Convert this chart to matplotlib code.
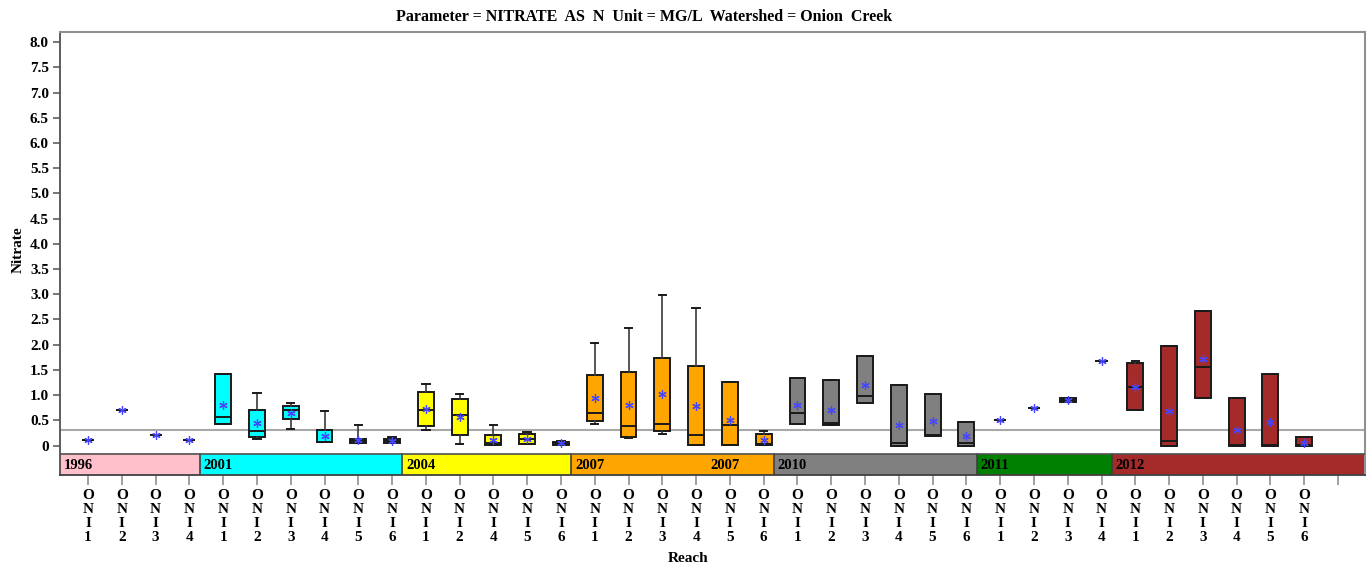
import matplotlib
matplotlib.use("Agg")
import matplotlib.pyplot as plt
from matplotlib.patches import Rectangle

# ---------------- data ----------------
sites = ["ONI1", "ONI2", "ONI3", "ONI4",
         "ONI1", "ONI2", "ONI3", "ONI4", "ONI5", "ONI6",
         "ONI1", "ONI2", "ONI4", "ONI5", "ONI6",
         "ONI1", "ONI2", "ONI3", "ONI4", "ONI5", "ONI6",
         "ONI1", "ONI2", "ONI3", "ONI4", "ONI5", "ONI6",
         "ONI1", "ONI2", "ONI3", "ONI4",
         "ONI1", "ONI2", "ONI3", "ONI4", "ONI5", "ONI6"]
q1 = [0.10, 0.70, 0.20, 0.10,
      0.43, 0.16, 0.52, 0.06, 0.05, 0.05,
      0.38, 0.20, 0.01, 0.03, 0.01,
      0.48, 0.17, 0.29, 0.01, 0.01, 0.01,
      0.42, 0.40, 0.85, 0.00, 0.19, 0.00,
      0.50, 0.74, 0.87, 1.68,
      0.70, 0.00, 0.94, 0.00, 0.00, 0.00]
med = [0.10, 0.70, 0.20, 0.10,
       0.57, 0.28, 0.71, 0.07, 0.08, 0.08,
       0.71, 0.61, 0.05, 0.12, 0.04,
       0.65, 0.38, 0.42, 0.21, 0.40, 0.02,
       0.64, 0.44, 0.99, 0.05, 0.21, 0.05,
       0.50, 0.74, 0.91, 1.68,
       1.16, 0.08, 1.55, 0.01, 0.01, 0.01]
q3 = [0.10, 0.70, 0.20, 0.10,
      1.42, 0.71, 0.78, 0.30, 0.12, 0.13,
      1.07, 0.92, 0.21, 0.23, 0.07,
      1.39, 1.45, 1.73, 1.57, 1.25, 0.22,
      1.34, 1.29, 1.77, 1.20, 1.02, 0.47,
      0.50, 0.74, 0.94, 1.68,
      1.64, 1.98, 2.66, 0.94, 1.41, 0.16]
whis_lo = [0.10, 0.70, 0.20, 0.10,
           0.43, 0.13, 0.33, 0.06, 0.05, 0.05,
           0.30, 0.02, 0.01, 0.03, 0.01,
           0.42, 0.15, 0.22, 0.01, 0.01, 0.01,
           0.42, 0.40, 0.85, 0.00, 0.19, 0.00,
           0.50, 0.74, 0.87, 1.68,
           0.70, 0.00, 0.94, 0.00, 0.00, 0.00]
whis_hi = [0.10, 0.70, 0.20, 0.10,
           1.42, 1.05, 0.85, 0.69, 0.40, 0.16,
           1.22, 1.02, 0.40, 0.26, 0.09,
           2.03, 2.33, 2.98, 2.72, 1.25, 0.28,
           1.34, 1.29, 1.77, 1.20, 1.02, 0.47,
           0.50, 0.74, 0.94, 1.68,
           1.67, 1.98, 2.66, 0.94, 1.41, 0.16]
means = [0.10, 0.70, 0.20, 0.10,
         0.81, 0.44, 0.65, 0.18, 0.10, 0.08,
         0.73, 0.56, 0.11, 0.13, 0.05,
         0.94, 0.81, 1.02, 0.79, 0.50, 0.11,
         0.80, 0.71, 1.20, 0.41, 0.48, 0.18,
         0.50, 0.74, 0.91, 1.68,
         1.17, 0.69, 1.72, 0.31, 0.47, 0.05]

block_labels = ["1996", "2001", "2004", "2007", "2007", "2010", "2011", "2012"]
block_sizes = [4, 6, 5, 4, 2, 6, 4, 6]
block_colors = ["#FFC0CB", "#00FFFF", "#FFFF00", "#FFA500", "#FFA500",
                "#808080", "#008000", "#A52A2A"]
ref_value = 0.31
y_ticks = [0.0, 0.5, 1.0, 1.5, 2.0, 2.5, 3.0, 3.5, 4.0, 4.5,
           5.0, 5.5, 6.0, 6.5, 7.0, 7.5, 8.0]

title = "Parameter = NITRATE  AS  N  Unit = MG/L  Watershed = Onion  Creek"
xlabel = "Reach"
ylabel = "Nitrate"

# ---------------- plot ----------------
FONT = ["Liberation Serif", "DejaVu Serif"]
plt.rcParams["font.family"] = FONT
plt.rcParams["font.weight"] = "bold"

fig = plt.figure(figsize=(13.72, 5.69), dpi=100)
ax = fig.add_axes([60 / 1372, 1 - 475 / 569, 1305 / 1372, 443 / 569])

n = len(sites)
positions = list(range(1, n + 1))

cat_colors = []
for c, s in zip(block_colors, block_sizes):
    cat_colors += [c] * s

stats = []
widths = []
for i in range(n):
    stats.append(dict(med=med[i], q1=q1[i], q3=q3[i], whislo=whis_lo[i],
                      whishi=whis_hi[i], mean=means[i], fliers=[]))
    widths.append(0.36 if q1[i] == q3[i] else 0.47)

bp = ax.bxp(stats, positions=positions, widths=widths, patch_artist=True,
            showmeans=True, showfliers=False, manage_ticks=False,
            boxprops=dict(edgecolor="#1a1a1a", linewidth=1.4),
            medianprops=dict(color="#1a1a1a", linewidth=1.4),
            whiskerprops=dict(color="#3a3a3a", linewidth=1.2),
            capprops=dict(color="#1a1a1a", linewidth=1.4),
            capwidths=0.22,
            meanprops=dict(marker=(6, 2, 0), markeredgecolor="#4646ff",
                           markerfacecolor="#4646ff", markersize=6,
                           markeredgewidth=0.9, linestyle="none"))
for patch, col in zip(bp["boxes"], cat_colors):
    patch.set_facecolor(col)

xmin, xmax = 0.17, 38.8
ymin, ymax = -0.585, 8.2
band_top = -0.168
ax.set_xlim(xmin, xmax)
ax.set_ylim(ymin, ymax)

ax.axhline(ref_value, color="#a8a8a8", linewidth=1.5, zorder=1)

start = xmin
edges = []
idx = 0
for k, (lab, size, col) in enumerate(zip(block_labels, block_sizes, block_colors)):
    idx += size
    end = idx + 0.3 if k < len(block_sizes) - 1 else xmax
    ax.add_patch(Rectangle((start, ymin), end - start, band_top - ymin,
                           facecolor=col, edgecolor="none", zorder=2))
    ax.text(start + 0.12, (ymin + band_top) / 2 - 0.02, lab, ha="left",
            va="center", fontsize=10.5, fontweight="bold", color="black",
            zorder=4)
    if k < len(block_sizes) - 1 and block_colors[k + 1] != col:
        edges.append(end)
    start = end
for e in edges:
    ax.plot([e, e], [ymin, band_top], color="#404040", linewidth=1.2, zorder=3)
ax.plot([xmin, xmax], [band_top, band_top], color="#505050", linewidth=1.2,
        zorder=3)

for side in ["top", "right"]:
    ax.spines[side].set_color("#909090")
    ax.spines[side].set_linewidth(1.5)
ax.spines["left"].set_color("#505050")
ax.spines["left"].set_linewidth(1.3)
ax.spines["bottom"].set_color("#404040")
ax.spines["bottom"].set_linewidth(1.3)

ax.set_yticks(y_ticks)
ax.set_yticklabels(["0" if v == 0 else f"{v:.1f}" for v in y_ticks],
                   fontsize=11, fontweight="bold")
ax.tick_params(axis="y", length=5, width=1.2, color="#606060", pad=3)

ax.set_xticks(positions + [n + 1])
ax.set_xticklabels(["\n".join(s) for s in sites] + [""], fontsize=11,
                   fontweight="bold", linespacing=1.1)
ax.tick_params(axis="x", length=7, width=1.2, color="#909090", pad=3)

fig.text(644 / 1372, 1 - 17 / 569, title, ha="center", va="center",
         fontsize=11.5, fontweight="bold")
fig.text(688 / 1372, 1 - 559 / 569, xlabel, ha="center", va="center",
         fontsize=11, fontweight="bold")
fig.text(18 / 1372, 1 - 250 / 569, ylabel, ha="center", va="center",
         rotation=90, fontsize=11, fontweight="bold")

fig.savefig("out.png", dpi=100)
